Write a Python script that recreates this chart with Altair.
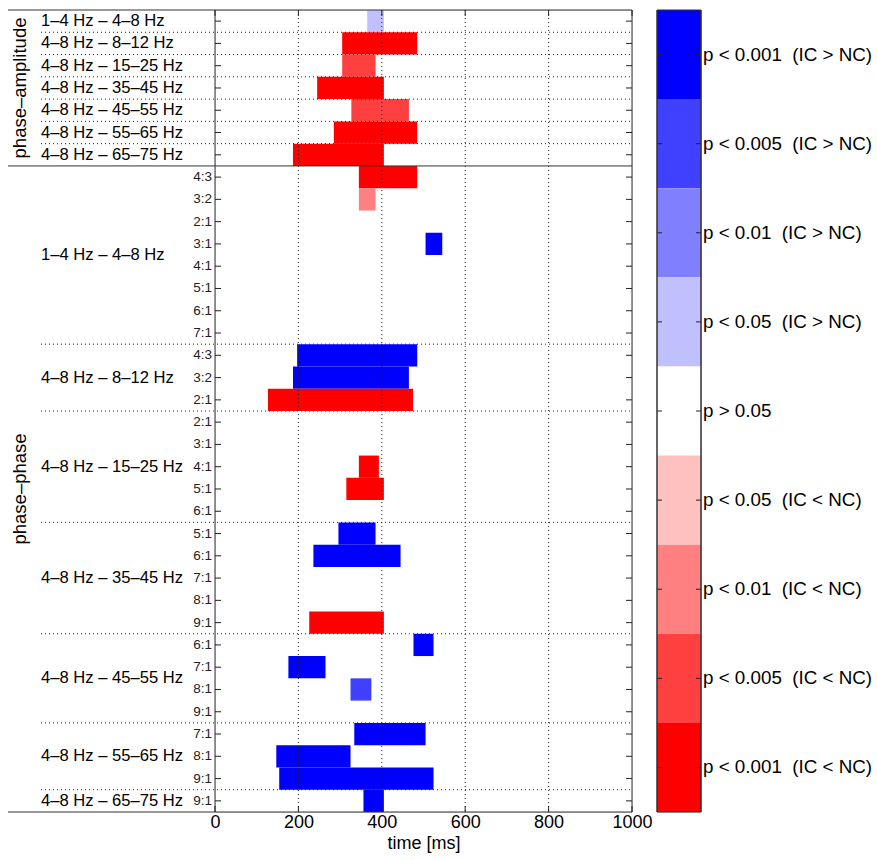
import altair as alt
import pandas as pd

FONT = "Liberation Sans"

# ---------------- data ----------------
pa_labels = ["1–4 Hz – 4–8 Hz", "4–8 Hz – 8–12 Hz", "4–8 Hz – 15–25 Hz", "4–8 Hz – 35–45 Hz",
             "4–8 Hz – 45–55 Hz", "4–8 Hz – 55–65 Hz", "4–8 Hz – 65–75 Hz"]
pp_groups = ["1–4 Hz – 4–8 Hz", "4–8 Hz – 8–12 Hz", "4–8 Hz – 15–25 Hz", "4–8 Hz – 35–45 Hz",
             "4–8 Hz – 45–55 Hz", "4–8 Hz – 55–65 Hz", "4–8 Hz – 65–75 Hz"]
pp_ratios = [["4:3", "3:2", "2:1", "3:1", "4:1", "5:1", "6:1", "7:1"],
             ["4:3", "3:2", "2:1"],
             ["2:1", "3:1", "4:1", "5:1", "6:1"],
             ["5:1", "6:1", "7:1", "8:1", "9:1"],
             ["6:1", "7:1", "8:1", "9:1"],
             ["7:1", "8:1", "9:1"],
             ["9:1"]]
section_titles = ["phase–amplitude", "phase–phase"]

levels = ["p < 0.001 \u00a0(IC > NC)", "p < 0.005 \u00a0(IC > NC)", "p < 0.01 \u00a0(IC > NC)",
          "p < 0.05 \u00a0(IC > NC)", "p > 0.05", "p < 0.05 \u00a0(IC < NC)", "p < 0.01 \u00a0(IC < NC)",
          "p < 0.005 \u00a0(IC < NC)", "p < 0.001 \u00a0(IC < NC)"]
level_colors = ["#0000ff", "#4040ff", "#8080ff", "#c0c0ff", "#ffffff",
                "#ffc0c0", "#ff8080", "#ff4040", "#ff0000"]

# phase-amplitude clusters (row, start ms, end ms, level index)
pa_row = [0, 1, 2, 3, 4, 5, 6]
pa_start = [365, 305, 305, 245, 327, 285, 187]
pa_end = [405, 485, 385, 405, 465, 485, 405]
pa_level = [3, 8, 7, 8, 7, 8, 8]

# phase-phase clusters (group, ratio, start ms, end ms, level index)
pp_group_idx = [0, 0, 0, 1, 1, 1, 2, 2, 3, 3, 3, 4, 4, 4, 5, 5, 5, 6]
pp_ratio_lbl = ["4:3", "3:2", "3:1", "4:3", "3:2", "2:1", "4:1", "5:1", "5:1", "6:1", "9:1",
                "6:1", "7:1", "8:1", "7:1", "8:1", "9:1", "9:1"]
pp_start = [345, 345, 505, 197, 187, 127, 345, 315, 296, 236, 226, 476, 176, 325, 334, 147, 154, 356]
pp_end = [485, 385, 545, 485, 465, 475, 393, 405, 385, 445, 405, 524, 265, 375, 505, 325, 524, 405]
pp_level = [8, 6, 0, 0, 0, 8, 8, 8, 0, 0, 8, 0, 0, 1, 0, 0, 0, 0]

x_ticks = [0, 200, 400, 600, 800, 1000]
grid_x = [200, 400, 600, 800]

# ---------------- derived tables ----------------
n_pa = len(pa_labels)
rows = []
for i, lab in enumerate(pa_labels):
    rows.append({"idx": i, "c": i + 0.5, "label": lab, "section": 0})
group_first = []
r = n_pa
for g, ratios in enumerate(pp_ratios):
    group_first.append(r)
    for rat in ratios:
        rows.append({"idx": r, "c": r + 0.5, "label": rat, "section": 1, "group": g})
        r += 1
N = r
rows_df = pd.DataFrame(rows)

bars = []
for rr, s, e, lv in zip(pa_row, pa_start, pa_end, pa_level):
    bars.append({"y0": rr, "y1": rr + 1, "start": s, "end": e, "level": levels[lv]})
for g, rat, s, e, lv in zip(pp_group_idx, pp_ratio_lbl, pp_start, pp_end, pp_level):
    rr = group_first[g] + pp_ratios[g].index(rat)
    bars.append({"y0": rr, "y1": rr + 1, "start": s, "end": e, "level": levels[lv]})
bars_df = pd.DataFrame(bars)

dotted_b = [i for i in range(1, n_pa)] + group_first[1:]
solid_b = [0, n_pa, N]
groups_df = pd.DataFrame({
    "label": pp_groups,
    "c": [group_first[g] + len(pp_ratios[g]) / 2 for g in range(len(pp_groups))],
})
sections_df = pd.DataFrame({"label": section_titles, "c": [n_pa / 2, n_pa + (N - n_pa) / 2]})

# ---------------- encodings ----------------
W, H = 417, 802
YS = alt.Scale(domain=[0, N], reverse=True, nice=False, zero=False)
XS = alt.Scale(domain=[0, 1000], nice=False, zero=False)
X_AXIS = alt.Axis(values=x_ticks, format="d", domain=False, ticks=False, grid=False, labelFont=FONT,
                  labelFontSize=18, labelColor="black", labelPadding=1, labelFlush=False,
                  title="time [ms]", titleFont=FONT, titleFontSize=18, titleFontWeight="normal",
                  titleColor="black", titlePadding=3)


def Y(f):
    return alt.Y(f, type="quantitative", scale=YS, axis=None)


def X(f):
    return alt.X(f, type="quantitative", scale=XS, axis=X_AXIS)


color = alt.Color("level:N", scale=alt.Scale(domain=levels, range=level_colors), legend=None)

rects = alt.Chart(bars_df).mark_rect(strokeWidth=0).encode(
    x=X("start"), x2="end", y=Y("y0"), y2="y1", color=color)

grid = alt.Chart(pd.DataFrame({"t": grid_x})).mark_rule(
    color="#222", strokeDash=[1, 3], strokeWidth=1).encode(
    x=X("t"), y=alt.value(0), y2=alt.value(H))

dotted = alt.Chart(pd.DataFrame({"b": dotted_b})).mark_rule(
    color="#222", strokeDash=[1, 3], strokeWidth=1).encode(
    y=Y("b"), x=alt.value(-174), x2=alt.value(W))

solid = alt.Chart(pd.DataFrame({"b": solid_b})).mark_rule(
    color="#333", strokeWidth=1).encode(
    y=Y("b"), x=alt.value(-207), x2=alt.value(W))

edges = alt.Chart(pd.DataFrame({"t": [0, 1000]})).mark_rule(
    color="#333", strokeWidth=1).encode(
    x=X("t"), y=alt.value(0), y2=alt.value(H))

ytick_l = alt.Chart(rows_df).mark_rule(color="#222").encode(
    y=Y("c"), x=alt.value(0), x2=alt.value(6))
ytick_r = alt.Chart(rows_df).mark_rule(color="#222").encode(
    y=Y("c"), x=alt.value(W - 6), x2=alt.value(W))

xt_df = pd.DataFrame({"t": x_ticks})
xtick_b = alt.Chart(xt_df).mark_rule(color="#222").encode(
    x=X("t"), y=alt.value(H - 6), y2=alt.value(H))
xtick_t = alt.Chart(xt_df).mark_rule(color="#222").encode(
    x=X("t"), y=alt.value(0), y2=alt.value(6))

pa_text = alt.Chart(rows_df[rows_df.section == 0]).mark_text(
    align="left", baseline="middle", font=FONT, fontSize=16.6, color="black").encode(
    x=alt.value(-174), y=Y("c"), text="label:N")

ratio_text = alt.Chart(rows_df[rows_df.section == 1]).mark_text(
    align="right", baseline="middle", font=FONT, fontSize=13.5, color="#222").encode(
    x=alt.value(-3), y=Y("c"), text="label:N")

group_text = alt.Chart(groups_df).mark_text(
    align="left", baseline="middle", font=FONT, fontSize=16.6, color="black").encode(
    x=alt.value(-174), y=Y("c"), text="label:N")

section_text = alt.Chart(sections_df).mark_text(
    align="center", baseline="middle", font=FONT, fontSize=18.5, angle=270, color="black").encode(
    x=alt.value(-195), y=Y("c"), text="label:N")

main = alt.layer(rects, grid, dotted, solid, edges, ytick_l, ytick_r, xtick_b, xtick_t,
                 pa_text, ratio_text, group_text, section_text).properties(width=W, height=H)

# ---------------- colorbar ----------------
CW = 44
cb_df = pd.DataFrame({"i0": list(range(len(levels))), "i1": [i + 1 for i in range(len(levels))],
                      "c": [i + 0.5 for i in range(len(levels))], "level": levels})
CYS = alt.Scale(domain=[0, len(levels)], reverse=True, nice=False, zero=False)
cb_rect = alt.Chart(cb_df).mark_rect(strokeWidth=0).encode(
    y=alt.Y("i0:Q", scale=CYS, axis=None), y2="i1", x=alt.value(0), x2=alt.value(CW), color=color)
cb_tl = alt.Chart(cb_df).mark_rule(color="#222").encode(
    y=alt.Y("c:Q", scale=CYS, axis=None), x=alt.value(0), x2=alt.value(5))
cb_tr = alt.Chart(cb_df).mark_rule(color="#222").encode(
    y=alt.Y("c:Q", scale=CYS, axis=None), x=alt.value(CW - 5), x2=alt.value(CW))
cb_frame_v = alt.Chart(pd.DataFrame({"e": [0, len(levels)]})).mark_rule(color="#333").encode(
    y=alt.Y("e:Q", scale=CYS, axis=None), x=alt.value(0), x2=alt.value(CW))
cb_frame_h = alt.Chart(pd.DataFrame({"e": [0, len(levels)]})).mark_rule(color="#333").encode(
    x=alt.value(0), y=alt.value(0), y2=alt.value(H))
cb_frame_h2 = alt.Chart(pd.DataFrame({"e": [0, len(levels)]})).mark_rule(color="#333").encode(
    x=alt.value(CW), y=alt.value(0), y2=alt.value(H))
cb_text = alt.Chart(cb_df).mark_text(
    align="left", baseline="middle", font=FONT, fontSize=18.8, color="black").encode(
    y=alt.Y("c:Q", scale=CYS, axis=None), x=alt.value(CW + 2), text="level:N")
colorbar = alt.layer(cb_rect, cb_tl, cb_tr, cb_frame_v, cb_frame_h, cb_frame_h2,
                     cb_text).properties(width=CW, height=H)

chart = alt.hconcat(main, colorbar, spacing=25, bounds="flush").resolve_scale(
    x="independent", y="independent", color="shared").properties(
    padding={"left": 7, "top": 9, "right": 0, "bottom": 0}).configure_view(
    stroke=None).configure(background="white")

chart.save("out.html", embed_options={"renderer": "svg", "actions": False})
